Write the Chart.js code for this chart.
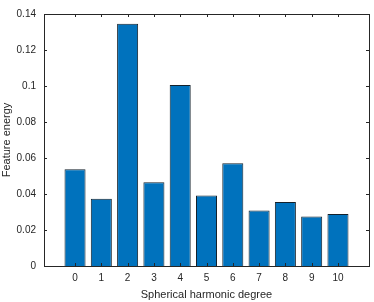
<!DOCTYPE html>
<html>
<head>
<meta charset="utf-8">
<script src="https://cdn.jsdelivr.net/npm/chart.js@4/dist/chart.umd.min.js"></script>
<style>
  html, body { margin: 0; padding: 0; background: #fff; }
  #wrap { width: 374px; height: 302px; }
</style>
</head>
<body>
<div id="wrap"><canvas id="chart" width="374" height="302"></canvas></div>
<script>
const degrees = [0, 1, 2, 3, 4, 5, 6, 7, 8, 9, 10];
const energy = [0.0537, 0.0374, 0.1346, 0.0465, 0.1006, 0.0391, 0.0571, 0.0309, 0.0356, 0.0275, 0.0289];
const yTicks = [0, 0.02, 0.04, 0.06, 0.08, 0.1, 0.12, 0.14];

const FONT = 'Liberation Sans, Arial, Helvetica, sans-serif';
const AXIS = '#262626';

// box + inward ticks, MATLAB style
const boxPlugin = {
  id: 'box',
  afterDraw(chart) {
    const { ctx, chartArea: a, scales } = chart;
    const len = 3;
    ctx.save();
    ctx.strokeStyle = AXIS;
    ctx.lineWidth = 1;
    ctx.beginPath();
    degrees.forEach(d => {
      const x = Math.round(scales.x.getPixelForValue(d)) + 0.5;
      ctx.moveTo(x, a.bottom); ctx.lineTo(x, a.bottom - len);
      ctx.moveTo(x, a.top); ctx.lineTo(x, a.top + len);
    });
    yTicks.forEach(v => {
      const y = Math.round(scales.y.getPixelForValue(v)) + 0.5;
      ctx.moveTo(a.left, y); ctx.lineTo(a.left + len, y);
      ctx.moveTo(a.right, y); ctx.lineTo(a.right - len, y);
    });
    ctx.stroke();
    ctx.strokeRect(Math.round(a.left) + 0.5, Math.round(a.top) + 0.5,
      Math.round(a.right - a.left), Math.round(a.bottom - a.top));
    ctx.restore();
  }
};

new Chart(document.getElementById('chart').getContext('2d'), {
  type: 'bar',
  data: {
    datasets: [{
      data: degrees.map((d, i) => ({ x: d, y: energy[i] })),
      backgroundColor: '#0072BD',
      borderColor: '#14212b',
      borderWidth: 1,
      barPercentage: 0.8,
      categoryPercentage: 1
    }]
  },
  options: {
    responsive: false,
    animation: false,
    layout: { padding: { top: 8, right: 5, left: 0, bottom: 0 } },
    plugins: { legend: { display: false }, tooltip: { enabled: false } },
    scales: {
      x: {
        type: 'linear',
        offset: false,
        min: -1.18,
        max: 11.18,
        afterBuildTicks: s => { s.ticks = degrees.map(v => ({ value: v })); },
        afterFit: s => { s.height = 36; },
        grid: { display: false, drawTicks: false, offset: false },
        border: { display: false },
        ticks: { color: AXIS, font: { family: FONT, size: 10 }, padding: 6, maxRotation: 0 },
        title: { display: true, text: 'Spherical harmonic degree', color: AXIS,
          font: { family: FONT, size: 11 }, padding: { top: 0, bottom: 0 } }
      },
      y: {
        min: 0,
        max: 0.14,
        afterBuildTicks: s => { s.ticks = yTicks.map(v => ({ value: v })); },
        afterFit: s => { s.width = 44; },
        grid: { display: false, drawTicks: false },
        border: { display: false },
        ticks: { color: AXIS, font: { family: FONT, size: 10 }, padding: 8,
          callback: v => String(Number(v.toFixed(2))) },
        title: { display: true, text: 'Feature energy', color: AXIS,
          font: { family: FONT, size: 11 }, padding: { top: 0, bottom: 0 } }
      }
    }
  },
  plugins: [boxPlugin]
});
</script>
</body>
</html>
